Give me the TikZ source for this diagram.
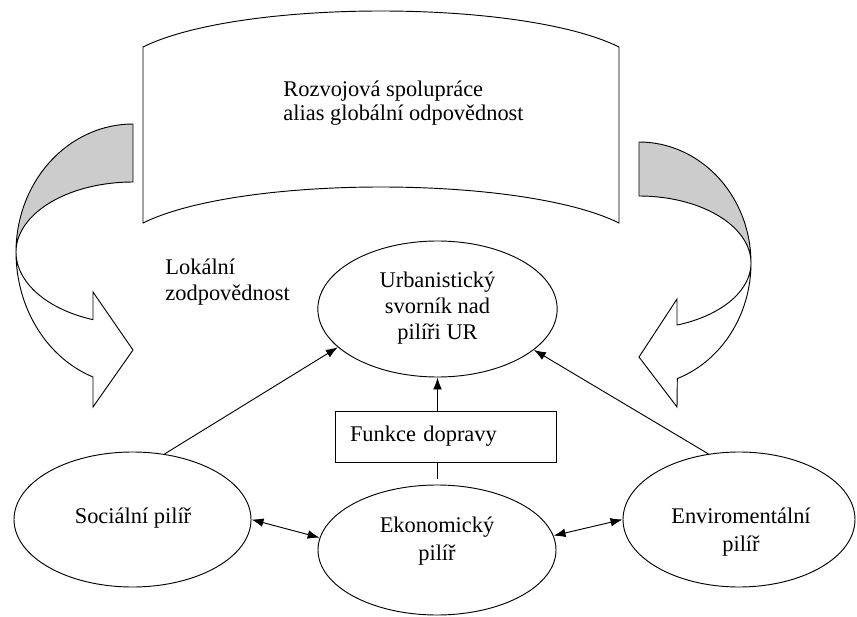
\documentclass[tikz,border=0pt]{standalone}
\usepackage{fontspec}
\setmainfont{Liberation Serif}
\usetikzlibrary{shapes.geometric, arrows.meta}

\newcommand{\pismo}[1]{\fontsize{16.8pt}{#1}\selectfont}

\tikzset{
    pilir/.style = {draw, ellipse, inner sep=0pt},
    popis/.style = {align=center, inner sep=0pt, anchor=north},
}

\begin{document}
\begin{tikzpicture}[x=0.75pt, y=-0.75pt, line width=0.7pt,
    >={Latex[length=9pt, width=6.5pt]}, font=\pismo{19.5pt}]
    \useasboundingbox (0, 0) rectangle (857, 617);

    % global part
    \draw (143, 47) .. controls (240, -1) and (522, -1) .. (619, 47)
        -- (619, 223) .. controls (522, 175) and (240, 175) .. (143, 223) -- cycle;
    \node[align=left, inner sep=0pt, anchor=north west, font=\pismo{18pt}] (glob) at (283, 80)
        {Rozvojová spolupráce\\alias globální odpovědnost};

    % curved arrows
    \filldraw[fill=black!20] plot[domain=270:180, samples=40] ({133 + 117*cos(\x)}, {252 + 128*sin(\x)})
        -- plot[domain=180:270, samples=40] ({133 + 117*cos(\x)}, {252 + 70*sin(\x)}) -- cycle;
    \draw plot[domain=180:110, samples=40] ({133 + 117*cos(\x)}, {252 + 133*sin(\x)})
        -- (93, 407) -- (133, 350) -- (93, 292) -- (93, 320)
        -- plot[domain=110:180, samples=40] ({133 + 117*cos(\x)}, {252 + 72*sin(\x)}) -- cycle;
    \filldraw[fill=black!20] plot[domain=270:360, samples=40] ({639 + 112*cos(\x)}, {263 + 121*sin(\x)})
        -- plot[domain=360:270, samples=40] ({639 + 112*cos(\x)}, {263 + 67*sin(\x)}) -- cycle;
    \draw plot[domain=0:70, samples=40] ({639 + 112*cos(\x)}, {263 + 123*sin(\x)})
        -- (677, 407) -- (639, 357) -- (677, 299) -- (677, 325)
        -- plot[domain=70:0, samples=40] ({639 + 112*cos(\x)}, {263 + 66*sin(\x)}) -- cycle;

    \node[align=left, inner sep=0pt, anchor=north west, font=\pismo{20pt}] (lok) at (165, 258)
        {Lokální\\zodpovědnost};

    % pillars
    \node[pilir, minimum width=179.5pt, minimum height=102pt] (urb) at (437.5, 309) {};
    \node[popis] (urb-t) at (437.5, 271.5) {Urbanistický\\svorník nad\\pilíři UR};
    \node[pilir, minimum width=177.75pt, minimum height=101.25pt] (soc) at (132.5, 519.5) {};
    \node[anchor=base, inner sep=0pt] (soc-t) at (133, 523) {Sociální pilíř};
    \node[pilir, minimum width=178.5pt, minimum height=97.5pt] (eko) at (437, 550) {};
    \node[popis, font=\pismo{21pt}] (eko-t) at (437, 516.5) {Ekonomický\\pilíř};
    \node[pilir, minimum width=174pt, minimum height=101.25pt] (env) at (739, 519.5) {};
    \node[popis, font=\pismo{21pt}] (env-t) at (741, 507.5) {Enviromentální\\pilíř};

    \node[draw, minimum height=38.25pt, text width=143.25pt, inner xsep=11.25pt, align=left] (fun)
        at (445.5, 436.5) {Funkce dopravy};

    % connectors
    \draw[->] (soc.64) -- (urb.201);
    \draw[->] (env.115) -- (urb.337);
    \draw[->] (fun.north -| urb.south) -- (urb.south);
    \draw[shorten >=4.5pt] (fun.south -| eko.north) -- (eko.north);
    \draw[<->] (soc.east) -- (eko.174);
    \draw[<->] (eko.7) -- (env.west);
\end{tikzpicture}
\end{document}
